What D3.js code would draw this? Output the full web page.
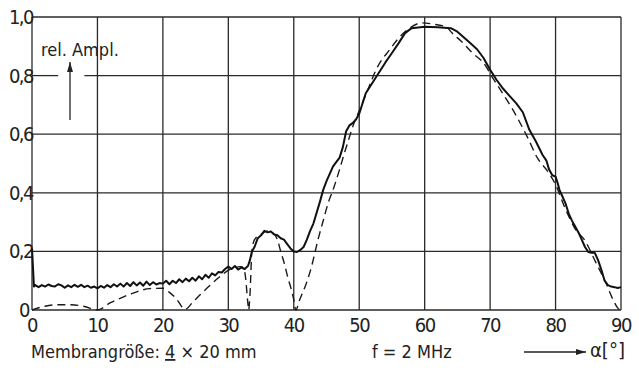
<!DOCTYPE html>
<html>

<head>
    <meta charset="utf-8">
    <style>
        body {
            margin: 0;
            background: white;
        }

        svg {
            display: block;
            font-family: "DejaVu Sans Condensed", "Liberation Sans Narrow", sans-serif;
        }

        .grid line {
            stroke: #2a2a2a;
            stroke-width: 1.3;
        }

        .tick-label {
            font-size: 20px;
            fill: #222;
            letter-spacing: -1.5px;
        }

        .note {
            font-size: 18px;
            fill: #222;
        }
    </style>
</head>

<body>
    <svg width="639" height="380"></svg>
</body>

<script src="https://d3js.org/d3.v7.min.js"></script>

<script>

    let width = 639;
    let height = 380;
    let margin = { top: 17, right: 18, bottom: 70, left: 32 };

    let svg = d3.select("svg")

    // tick values and labels
    let xTicks = [0, 10, 20, 30, 40, 50, 60, 70, 80, 90]
    let yTicks = [0, 0.2, 0.4, 0.6, 0.8, 1.0]
    let yLabels = ["0", "0,2", "0,4", "0,6", "0,8", "1,0"]

    // measured amplitude (solid) [angle, rel. amplitude]
    let measured = [
        [0, 0.21], [0.3, 0.08], [0.5, 0.085], [1, 0.078], [1.5, 0.085], [2, 0.08], [2.5, 0.087],
        [3, 0.082], [3.5, 0.08], [4, 0.088], [4.5, 0.084], [5, 0.076], [5.5, 0.084], [6, 0.078],
        [6.5, 0.086], [7, 0.079], [7.5, 0.086], [8, 0.078], [8.5, 0.083], [9, 0.076], [9.5, 0.08],
        [10, 0.074], [10.5, 0.082], [11, 0.076], [11.5, 0.085], [12, 0.078], [12.5, 0.088], [13, 0.08],
        [13.5, 0.09], [14, 0.08], [14.5, 0.092], [15, 0.082], [15.5, 0.095], [16, 0.084], [16.5, 0.094],
        [17, 0.083], [17.5, 0.097], [18, 0.085], [18.5, 0.095], [19, 0.087], [19.5, 0.092], [20, 0.09],
        [20.5, 0.1], [21, 0.088], [21.5, 0.1], [22, 0.092], [22.5, 0.105], [23, 0.095], [23.5, 0.107],
        [24, 0.098], [24.5, 0.11], [25, 0.1], [25.5, 0.115], [26, 0.105], [26.5, 0.12], [27, 0.11],
        [27.5, 0.125], [28, 0.118], [28.5, 0.13], [29, 0.128], [29.5, 0.14], [30, 0.148], [30.5, 0.14],
        [31, 0.15], [31.5, 0.138], [32, 0.145], [32.5, 0.14], [33, 0.15], [33.3, 0.17], [33.6, 0.2],
        [34, 0.215], [34.5, 0.245], [35, 0.255], [35.5, 0.27], [36, 0.265], [36.5, 0.268], [37, 0.258],
        [37.5, 0.255], [38, 0.245], [38.5, 0.24], [39, 0.225], [39.5, 0.21], [40, 0.2], [40.5, 0.198],
        [41, 0.205], [41.5, 0.215], [42, 0.24], [42.5, 0.27], [43, 0.295], [44, 0.37], [44.5, 0.41],
        [45, 0.44], [46, 0.49], [47, 0.52], [47.5, 0.556], [48, 0.61], [48.5, 0.63], [49, 0.638],
        [49.5, 0.65], [50, 0.67], [51, 0.74], [52, 0.775], [53, 0.81], [54, 0.845], [55, 0.877],
        [56, 0.91], [57, 0.945], [58, 0.962], [60, 0.967], [62, 0.965], [64, 0.962], [65, 0.95],
        [66, 0.93], [67, 0.91], [68, 0.89], [69, 0.86], [70, 0.82], [71, 0.785], [72, 0.755],
        [73, 0.73], [74, 0.705], [75, 0.675], [76, 0.615], [77, 0.575], [78, 0.53], [78.6, 0.51],
        [79, 0.48], [79.5, 0.46], [80, 0.455], [80.3, 0.435], [80.6, 0.41], [81, 0.39], [81.5, 0.365],
        [82, 0.33], [82.5, 0.305], [83, 0.285], [83.6, 0.26], [84, 0.24], [84.5, 0.215], [85, 0.198],
        [85.5, 0.195], [86, 0.195], [86.5, 0.17], [87, 0.137], [87.5, 0.1], [88, 0.085], [88.5, 0.08],
        [89, 0.078], [89.5, 0.075], [90, 0.078]
    ]

    // calculated amplitude (dashed)
    let calculated = [
        [0, 0], [2, 0.013], [4, 0.018], [6, 0.018], [8, 0.012], [10, 0], [12, 0.025], [14, 0.045],
        [16, 0.062], [18, 0.073], [20, 0.074], [21, 0.06], [22, 0.04], [23.4, 0.002], [24.5, 0.025],
        [25.6, 0.05], [27, 0.08], [28.5, 0.11], [30, 0.135], [31, 0.145], [32, 0.148], [32.5, 0.13],
        [33, 0.02], [33.1, 0], [33.3, 0.05], [33.6, 0.2], [34, 0.24], [35, 0.258], [36, 0.27],
        [36.7, 0.265], [37.5, 0.24], [38, 0.2], [38.6, 0.155], [39.1, 0.11], [39.5, 0.08], [40, 0.035],
        [40.3, 0], [40.9, 0.035], [41.9, 0.09], [42.7, 0.147], [43.7, 0.24], [44.4, 0.297],
        [45.4, 0.375], [46, 0.41], [47, 0.48], [47.8, 0.54], [48.5, 0.59], [49, 0.625], [50, 0.68],
        [51.1, 0.74], [52.8, 0.83], [54.6, 0.887], [56.1, 0.93], [57.7, 0.962], [59.6, 0.98],
        [61.2, 0.976], [63.3, 0.966], [64.2, 0.945], [65.7, 0.915], [67.3, 0.877], [69, 0.843],
        [70.6, 0.785], [71.9, 0.74], [73.3, 0.69], [75.7, 0.59], [77.2, 0.52], [79, 0.467],
        [79.8, 0.437], [81.6, 0.34], [83.1, 0.273], [84.4, 0.24], [86.2, 0.16], [87.7, 0.092],
        [88.6, 0.044], [89.4, 0.01], [89.8, 0]
    ]

    let x = d3.scaleLinear().domain([0, 90]).range([margin.left, width - margin.right])
    let y = d3.scaleLinear().domain([0, 1]).range([height - margin.bottom, margin.top])

    // grid
    let grid = svg.append("g").attr("class", "grid")

    grid.selectAll(".v")
        .data(xTicks)
        .join("line")
        .attr("x1", d => x(d))
        .attr("x2", d => x(d))
        .attr("y1", y(0))
        .attr("y2", y(1))

    // 0,8 line is broken for the "rel. Ampl." label
    let gapFrom = 4, gapTo = 8
    yTicks.forEach(function (v) {
        if (v == 0.8) {
            grid.append("line")
                .attr("x1", x(0)).attr("x2", x(gapFrom))
                .attr("y1", y(v)).attr("y2", y(v))
            grid.append("line")
                .attr("x1", x(gapTo)).attr("x2", x(90))
                .attr("y1", y(v)).attr("y2", y(v))
        } else {
            grid.append("line")
                .attr("x1", x(0)).attr("x2", x(90))
                .attr("y1", y(v)).attr("y2", y(v))
        }
    })

    // tick labels
    svg.selectAll(".ylab")
        .data(yTicks)
        .join("text")
        .attr("class", "tick-label")
        .attr("x", d => d == 0 ? x(0) - 3 : x(0) + 1)
        .attr("y", d => y(d) + 7)
        .attr("text-anchor", "end")
        .text((d, i) => yLabels[i])

    svg.selectAll(".xlab")
        .data(xTicks)
        .join("text")
        .attr("class", "tick-label")
        .attr("x", d => x(d))
        .attr("y", y(0) + 22)
        .attr("text-anchor", "middle")
        .text(d => d)

    // curves
    let line = d3.line()
        .x(d => x(d[0]))
        .y(d => y(d[1]))

    svg.append("path")
        .datum(calculated)
        .attr("fill", "none")
        .attr("stroke", "#1a1a1a")
        .attr("stroke-width", 1.4)
        .attr("stroke-dasharray", "8,5")
        .attr("d", line.curve(d3.curveMonotoneX))

    svg.append("path")
        .datum(measured)
        .attr("fill", "none")
        .attr("stroke", "#111")
        .attr("stroke-width", 2)
        .attr("stroke-linejoin", "round")
        .attr("d", line.curve(d3.curveLinear))

    // arrow marker
    svg.append("defs").append("marker")
        .attr("id", "head")
        .attr("viewBox", "0 0 10 6")
        .attr("refX", 10)
        .attr("refY", 3)
        .attr("markerWidth", 10)
        .attr("markerHeight", 6)
        .attr("markerUnits", "userSpaceOnUse")
        .attr("orient", "auto")
        .append("path")
        .attr("d", "M0,0 L10,3 L0,6 Z")
        .attr("fill", "#222")

    // y label with upward arrow
    svg.append("text")
        .attr("class", "note")
        .attr("x", 41)
        .attr("y", 56)
        .text("rel. Ampl.")

    svg.append("line")
        .attr("x1", 70).attr("y1", 120)
        .attr("x2", 70).attr("y2", 62)
        .attr("stroke", "#222")
        .attr("stroke-width", 1.3)
        .attr("marker-end", "url(#head)")

    // bottom notes
    let memb = svg.append("text")
        .attr("class", "note")
        .attr("x", 31)
        .attr("y", 358)
    memb.append("tspan").text("Membrangröße: ")
    memb.append("tspan").style("text-decoration", "underline").text("4")
    memb.append("tspan").text(" × 20 mm")

    svg.append("text")
        .attr("class", "note")
        .attr("x", 372)
        .attr("y", 358)
        .text("f =  2 MHz")

    svg.append("line")
        .attr("x1", 524).attr("y1", 352)
        .attr("x2", 586).attr("y2", 352)
        .attr("stroke", "#222")
        .attr("stroke-width", 1.3)
        .attr("marker-end", "url(#head)")

    svg.append("text")
        .attr("class", "note")
        .attr("x", 590)
        .attr("y", 357)
        .style("font-size", "20px")
        .text("α[°]")

</script>

</html>
